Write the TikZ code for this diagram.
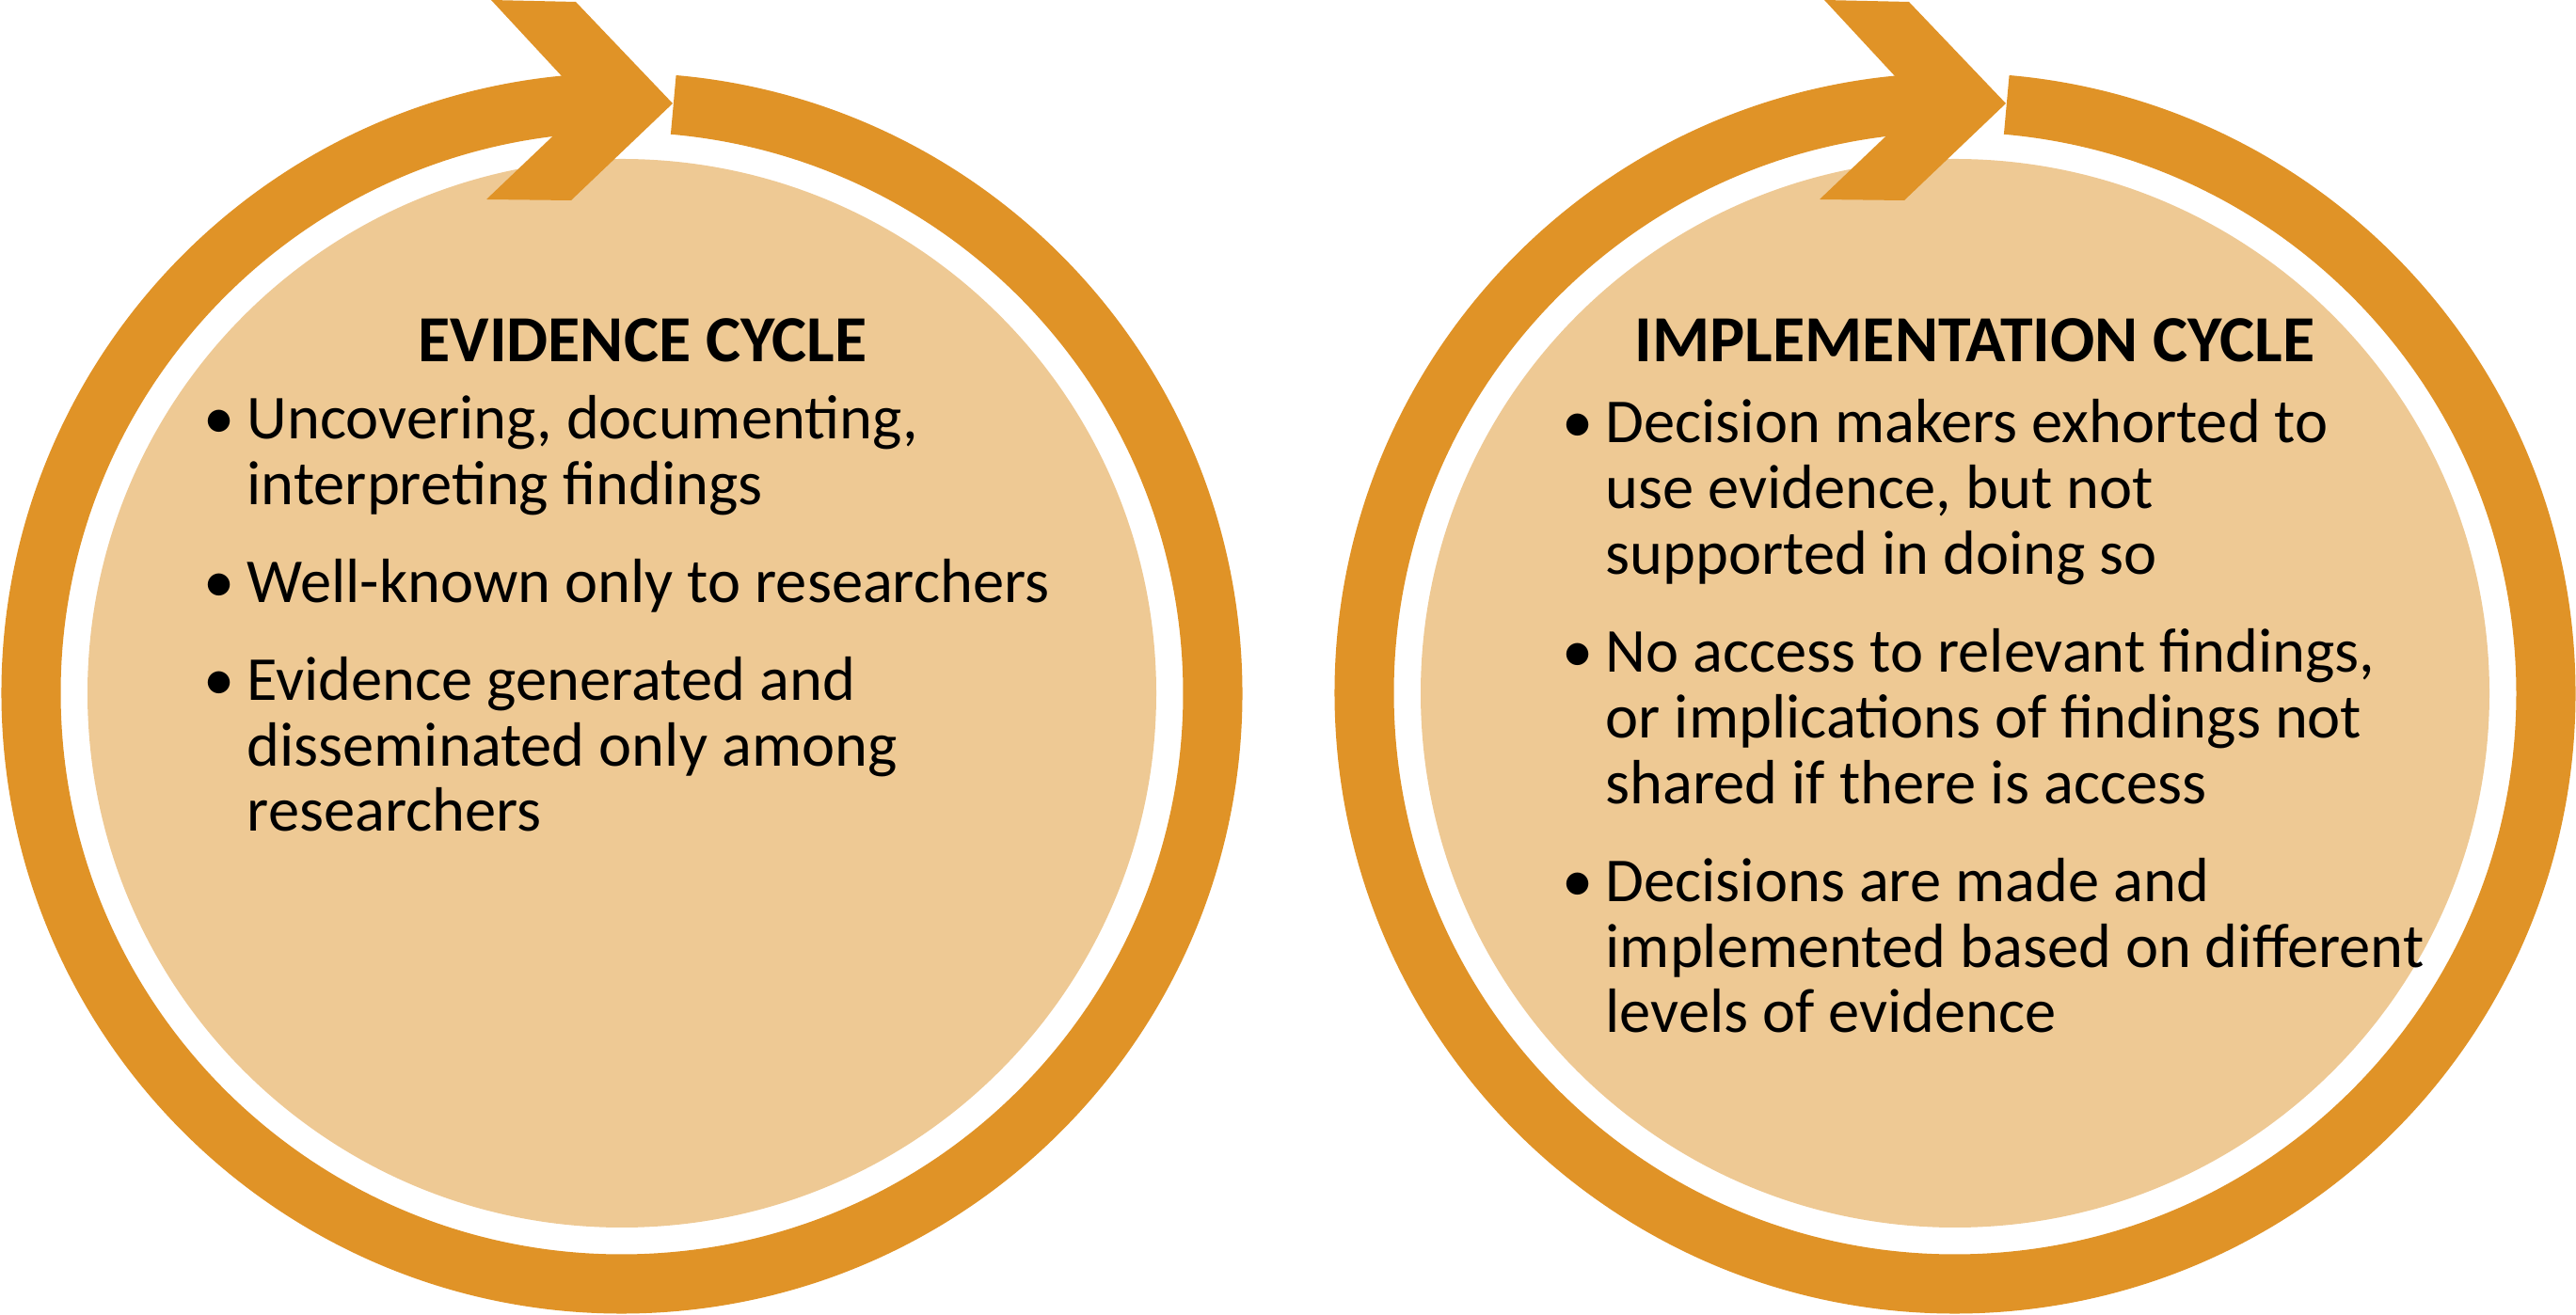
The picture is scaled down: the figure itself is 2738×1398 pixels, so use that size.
\documentclass[tikz,border=0pt]{standalone}
\usepackage{fontspec}
\setmainfont{Carlito}
\usepackage{tikz}
\definecolor{cycleorange}{HTML}{E09327}
\definecolor{cyclefill}{HTML}{EEC994}
\newcommand{\bul}{\llap{\makebox[0.46cm][l]{•}}}

\begin{document}
\begin{tikzpicture}[
  x=0.01cm,y=-0.01cm,
  ring/.style={draw=cycleorange,line width=0.63cm},
  disc/.style={fill=cyclefill},
  head/.style={fill=cycleorange},
  title/.style={font=\fontsize{19.9}{22}\selectfont\bfseries,anchor=base,inner sep=0pt},
  items/.style={font=\fontsize{18.9}{19.9}\selectfont,align=left,anchor=base west,inner sep=0pt}
]
\useasboundingbox (0,0) rectangle (2738,1398);

% the two cycles: disc, ring, arrow head
\foreach \cx/\nm in {661/evid,2078/impl}{
  \coordinate (\nm) at (\cx,737);
  \fill[disc] (\nm) circle[radius=568];
  \draw[ring] (\nm) ++(-92:628) arc[start angle=-92,end angle=-445,radius=628];
  \fill[head] (\cx-139,0) -- (\cx-49,2) -- (\cx+54,110) -- (\cx-54,213)
    -- (\cx-144,212) -- (\cx-37,110) -- cycle;
}

% lists are placed by the baseline of their last line
\node[title] (evidtitle) at (683,385) {EVIDENCE CYCLE};
\node[items] (evidlist) at (262,884) {\bul Uncovering, documenting,\\
interpreting findings\\[0.34cm]
\bul Well-known only to researchers\\[0.34cm]
\bul Evidence generated and\\
disseminated only among\\
researchers};

\node[title] (impltitle) at (2099,385) {IMPLEMENTATION CYCLE};
\node[items] (impllist) at (1706,1098) {\bul Decision makers exhorted to\\
use evidence, but not\\
supported in doing so\\[0.34cm]
\bul No access to relevant findings,\\
or implications of findings not\\
shared if there is access\\[0.34cm]
\bul Decisions are made and\\
implemented based on different\\
levels of evidence};
\end{tikzpicture}
\end{document}
